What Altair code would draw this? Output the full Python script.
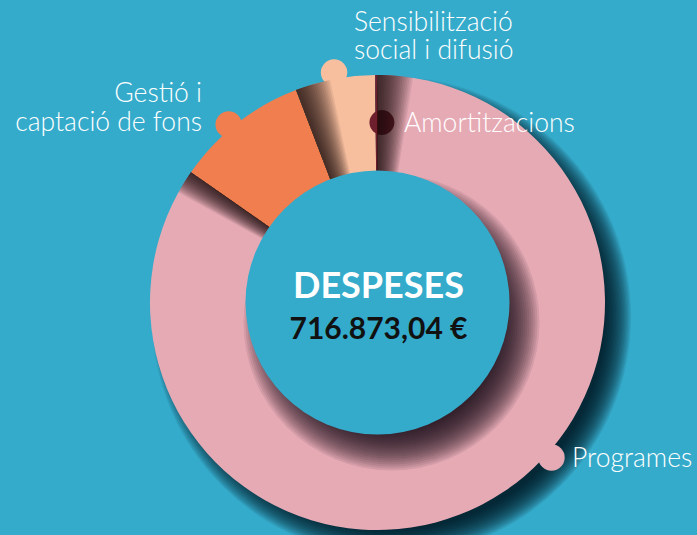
import math
import altair as alt
import pandas as pd

# ---------------- data ----------------
categories = ["Programes", "Gestió i captació de fons",
              "Sensibilització social i difusió", "Amortitzacions"]
label_text = ["Programes", "Gestió i\ncaptació de fons",
              "Sensibilització\nsocial i difusió", "Amortitzacions"]
amounts = [607173.04, 67900.00, 40600.00, 1200.00]
slice_colors = ["#E6AAB5", "#F07E4E", "#F8BF9F", "#C44B5B"]
dot_colors = ["#E6AAB5", "#F07E4E", "#F8BF9F", "#6E1F2D"]
center_title = "DESPESES"
center_total = "716.873,04 €"

# ---------------- layout ----------------
W, H = 697, 535
CX, CY = 377.5, 302.5
R_OUT, R_IN = 227.5, 132
BG = "#35ABCB"
SHADOW = "#1c0d12"
dot_angle_deg = [131.7, 320.1, 349.3, 1.4]
dot_radius = [233, 232, 234, 180]
label_x = [572, 202, 354, 404]
label_base = [467, 101.5, 30.5, 132]
label_align = ["left", "right", "left", "left"]
label_lh = [28, 29, 28, 28]
FS = 26.5

total = sum(amounts)
TAU = 2 * math.pi
TH = alt.Scale(domain=[0, total], range=[0, TAU])

# slices
ends = []
acc = 0.0
for v in amounts:
    acc += v
    ends.append(acc)
starts = [e - v for e, v in zip(ends, amounts)]
slices = pd.DataFrame({"cat": categories, "start": starts, "end": ends})

ring = alt.Chart(slices).mark_arc(innerRadius=R_IN - 3, outerRadius=R_OUT).encode(
    theta=alt.Theta("start:Q", scale=TH, stack=None),
    theta2=alt.Theta2("end:Q"),
    color=alt.Color("cat:N", scale=alt.Scale(domain=categories, range=slice_colors), legend=None),
    x=alt.value(CX), y=alt.value(CY),
)

# ---- decorative soft shadows (layered translucent shapes) ----
def circle_stack(cx, cy, r0, r1, n):
    return pd.DataFrame({
        "cx": [cx] * n, "cy": [cy] * n,
        "r": [r0 + (r1 - r0) * i / (n - 1) for i in range(n)],
    })

def circles(df, color, op):
    return alt.Chart(df).mark_arc(theta=0, theta2=TAU, color=color, opacity=op).encode(
        x=alt.X("cx:Q", scale=None), y=alt.Y("cy:Q", scale=None),
        radius=alt.Radius("r:Q", scale=None, stack=None),
    )

outer_shadow = circles(circle_stack(CX + 14, CY + 14, R_OUT - 14, R_OUT + 12, 20), "#03161e", 0.09)
inner_shadow = circles(circle_stack(CX + 14, CY + 20, R_IN - 22, R_IN + 16, 20), SHADOW, 0.085)

N = 20
b1 = ends[0]            # Programes | Gestió boundary
b2 = ends[1]            # Gestió | Sensibilització boundary
w_peach_pink = total * 9 / 360
w_orange_peach = total * 9 / 360
w_orange_pink = total * 6 / 360
rows = []
for k in range(1, N + 1):
    rows.append({"start": 0, "end": w_peach_pink * k / N})
    rows.append({"start": b2, "end": b2 + w_orange_peach * k / N})
    rows.append({"start": b1 - w_orange_pink * k / N, "end": b1})
edge_df = pd.DataFrame(rows)
edge_shadow = alt.Chart(edge_df).mark_arc(
    innerRadius=R_IN - 3, outerRadius=R_OUT, color=SHADOW, opacity=0.075
).encode(
    theta=alt.Theta("start:Q", scale=TH, stack=None),
    theta2=alt.Theta2("end:Q"),
    x=alt.value(CX), y=alt.value(CY),
)

# dots next to labels
dots = pd.DataFrame({
    "cat": categories,
    "px": [CX + r * math.sin(math.radians(a)) for a, r in zip(dot_angle_deg, dot_radius)],
    "py": [CY - r * math.cos(math.radians(a)) for a, r in zip(dot_angle_deg, dot_radius)],
})
dot_scale = alt.Scale(domain=categories, range=dot_colors)
outer_dots = alt.Chart(dots.iloc[:3]).mark_circle(size=700, opacity=1).encode(
    x=alt.X("px:Q", scale=None), y=alt.Y("py:Q", scale=None),
    color=alt.Color("cat:N", scale=dot_scale, legend=None),
)
amort_dot = alt.Chart(dots.iloc[3:]).mark_circle(size=620, opacity=1).encode(
    x=alt.X("px:Q", scale=None), y=alt.Y("py:Q", scale=None),
    color=alt.Color("cat:N", scale=dot_scale, legend=None),
)

hole = alt.Chart(pd.DataFrame({"cx": [CX], "cy": [CY], "r": [R_IN]})).mark_arc(
    theta=0, theta2=TAU, color=BG
).encode(
    x=alt.X("cx:Q", scale=None), y=alt.Y("cy:Q", scale=None),
    radius=alt.Radius("r:Q", scale=None, stack=None),
)

title_txt = alt.Chart(pd.DataFrame({"t": [center_title]})).mark_text(
    font="Lato", fontWeight="bold", fontSize=36, color="white",
    align="center", baseline="alphabetic"
).encode(text="t:N", x=alt.value(378.5), y=alt.value(298))

total_txt = alt.Chart(pd.DataFrame({"t": [center_total]})).mark_text(
    font="Lato", fontWeight="bold", fontSize=30, color="#111111",
    align="center", baseline="alphabetic"
).encode(text="t:N", x=alt.value(378.5), y=alt.value(339))

labels = []
for i in range(4):
    top_y = label_base[i] - round(0.79 * FS)
    labels.append(
        alt.Chart(pd.DataFrame({"t": [label_text[i]]})).mark_text(
            font="Lato", fontWeight=300, fontSize=FS, color="white",
            align=label_align[i], baseline="top", lineBreak="\n",
            lineHeight=label_lh[i]
        ).encode(text="t:N", x=alt.value(label_x[i]), y=alt.value(top_y))
    )

chart = alt.layer(
    outer_shadow, outer_dots, ring, amort_dot, edge_shadow, inner_shadow, hole,
    title_txt, total_txt, *labels
).properties(
    width=W, height=H, background=BG, padding=0,
    autosize=alt.AutoSizeParams(type="none"),
).configure_view(stroke=None)

chart.save("out.html", embed_options={"renderer": "svg", "actions": False})
